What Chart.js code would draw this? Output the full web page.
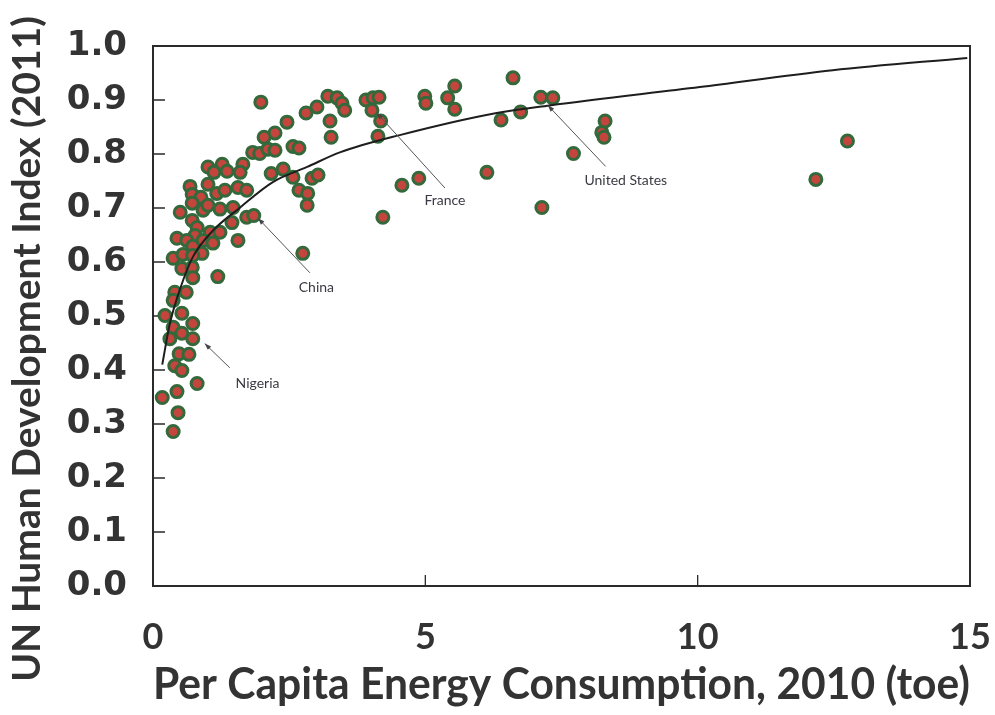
<!DOCTYPE html>
<html>
<head>
<meta charset="utf-8">
<script src="https://cdn.jsdelivr.net/npm/chart.js@4.4.1/dist/chart.umd.min.js"></script>
<style>
  html, body { margin: 0; padding: 0; background: #fff; }
  #wrap { width: 995px; height: 715px; }
</style>
</head>
<body>
<div id="wrap"><canvas id="hdiChart" width="995" height="715"></canvas></div>
<script>
// per capita energy use 2010 (toe) and HDI 2011
const energyX = [
  1.98, 2.46, 2.81, 3.01, 3.21, 3.38, 3.47, 3.52, 3.25, 3.27,
  3.91, 4.04, 4.15, 4.02, 4.18, 4.13, 2.24, 2.04, 2.57, 2.68,
  1.83, 1.96, 2.11, 2.24, 1.65, 1.27, 1.01, 1.12, 1.36, 1.60,
  2.17, 2.39, 2.57, 2.92, 3.03, 2.68, 2.84, 2.83, 0.68, 1.01,
  0.72, 0.88, 1.17, 1.32, 1.56, 1.72, 0.72, 0.92, 1.01, 1.23,
  1.47, 0.50, 1.45, 1.72, 1.85, 0.72, 0.81, 0.77, 1.05, 1.23,
  0.44, 0.62, 0.92, 1.10, 1.56, 0.73, 0.90, 0.37, 0.55, 0.73,
  0.53, 0.72, 0.73, 1.19, 0.40, 0.61, 0.37, 0.22, 0.53, 0.37,
  0.53, 0.73, 0.31, 0.73, 0.48, 0.66, 0.40, 0.53, 0.81, 0.44,
  0.17, 0.46, 0.37, 2.75, 4.22, 4.57, 4.88, 6.13, 6.39, 6.61,
  6.75, 7.12, 7.34, 7.14, 7.72, 8.24, 8.28, 8.30, 12.17, 12.75,
  4.99, 5.01, 5.41, 5.54, 5.54
];
const hdiY = [
  0.896, 0.859, 0.876, 0.887, 0.907, 0.904, 0.894, 0.881, 0.861, 0.831,
  0.900, 0.904, 0.905, 0.881, 0.861, 0.833, 0.839, 0.831, 0.814, 0.811,
  0.803, 0.801, 0.809, 0.807, 0.781, 0.781, 0.776, 0.766, 0.768, 0.766,
  0.764, 0.772, 0.757, 0.755, 0.761, 0.733, 0.727, 0.705, 0.740, 0.744,
  0.725, 0.720, 0.727, 0.733, 0.738, 0.733, 0.709, 0.696, 0.705, 0.698,
  0.701, 0.692, 0.673, 0.683, 0.686, 0.677, 0.664, 0.649, 0.655, 0.655,
  0.644, 0.640, 0.640, 0.635, 0.640, 0.629, 0.616, 0.607, 0.614, 0.612,
  0.588, 0.590, 0.571, 0.573, 0.544, 0.544, 0.529, 0.501, 0.505, 0.479,
  0.468, 0.486, 0.458, 0.458, 0.430, 0.429, 0.408, 0.399, 0.375, 0.360,
  0.349, 0.321, 0.286, 0.616, 0.683, 0.742, 0.755, 0.766, 0.863, 0.941,
  0.878, 0.905, 0.904, 0.701, 0.801, 0.840, 0.831, 0.861, 0.753, 0.824,
  0.907, 0.894, 0.904, 0.926, 0.883
];

// trend curve
const fitX = [0.17, 0.31, 0.50, 0.73, 1.08, 1.60, 2.20, 2.83, 3.43, 4.53, 6.31, 7.28, 10.04, 12.48, 14.95];
const fitY = [0.410, 0.486, 0.551, 0.609, 0.656, 0.701, 0.748, 0.776, 0.803, 0.835, 0.876, 0.890, 0.924, 0.955, 0.978];

// callouts (tip = arrow end on the point, tail = arrow start, text = label centre)
const noteLabels = ['Nigeria', 'China', 'France', 'United States'];
const noteTipX = [0.95, 1.93, 4.11, 7.25];
const noteTipY = [0.449, 0.681, 0.876, 0.890];
const noteTailX = [1.41, 2.88, 5.36, 8.31];
const noteTailY = [0.404, 0.580, 0.737, 0.777];
const noteTextX = [1.92, 3.00, 5.36, 8.68];
const noteTextY = [0.375, 0.552, 0.714, 0.751];

const yTicks = [0.1, 0.2, 0.3, 0.4, 0.5, 0.6, 0.7, 0.8, 0.9];
const xTicks = [5, 10];

const yTitle = 'UN Human Development Index (2011)';
const xTitle = 'Per Capita Energy Consumption, 2010 (toe)';

const boxPlugin = {
    id: 'boxPlugin',
    beforeDatasetsDraw(chart) {
        const ctx = chart.ctx;
        const a = chart.chartArea;
        const xs = chart.scales.x, ys = chart.scales.y;
        ctx.save();
        ctx.strokeStyle = '#2a2a2a';
        ctx.lineWidth = 2;
        ctx.strokeRect(a.left, a.top, a.right - a.left, a.bottom - a.top);
        ctx.lineWidth = 1.3;
        ctx.beginPath();
        yTicks.forEach(v => {
            const y = ys.getPixelForValue(v);
            ctx.moveTo(a.left, y);
            ctx.lineTo(a.left + 12, y);
        });
        xTicks.forEach(v => {
            const x = xs.getPixelForValue(v);
            ctx.moveTo(x, a.bottom);
            ctx.lineTo(x, a.bottom - 11);
        });
        ctx.stroke();
        ctx.restore();
    },
    afterDatasetsDraw(chart) {
        const ctx = chart.ctx;
        const xs = chart.scales.x, ys = chart.scales.y;
        ctx.save();
        ctx.strokeStyle = '#555';
        ctx.lineWidth = 1;
        noteLabels.forEach((lab, i) => {
            const tx = xs.getPixelForValue(noteTipX[i]), ty = ys.getPixelForValue(noteTipY[i]);
            const sx = xs.getPixelForValue(noteTailX[i]), sy = ys.getPixelForValue(noteTailY[i]);
            ctx.beginPath();
            ctx.moveTo(sx, sy);
            ctx.lineTo(tx, ty);
            ctx.stroke();
            const ang = Math.atan2(ty - sy, tx - sx);
            ctx.fillStyle = '#444';
            ctx.beginPath();
            ctx.moveTo(tx, ty);
            ctx.lineTo(tx - 7 * Math.cos(ang - 0.35), ty - 7 * Math.sin(ang - 0.35));
            ctx.lineTo(tx - 7 * Math.cos(ang + 0.35), ty - 7 * Math.sin(ang + 0.35));
            ctx.closePath();
            ctx.fill();
            ctx.font = '14px Lato';
            ctx.fillStyle = '#3a3a44';
            ctx.textAlign = 'center';
            ctx.textBaseline = 'middle';
            ctx.fillText(lab, xs.getPixelForValue(noteTextX[i]), ys.getPixelForValue(noteTextY[i]));
        });
        ctx.restore();
    },
    afterDraw(chart) {
        const ctx = chart.ctx;
        ctx.save();
        ctx.fillStyle = '#333';
        ctx.font = 'bold 39px Lato';
        ctx.textAlign = 'center';
        ctx.textBaseline = 'middle';
        ctx.translate(27, 349);
        ctx.rotate(-Math.PI / 2);
        ctx.fillText(yTitle, 0, 0);
        ctx.restore();
    }
};

const ctx = document.getElementById('hdiChart').getContext('2d');
new Chart(ctx, {
    type: 'scatter',
    data: {
        datasets: [{
            label: 'Countries',
            data: energyX.map((x, i) => ({ x: x, y: hdiY[i] })),
            backgroundColor: '#c4453d',
            borderColor: '#33693b',
            borderWidth: 3,
            pointRadius: 6,
            order: 2
        }, {
            type: 'line',
            label: 'Fit',
            data: fitX.map((x, i) => ({ x: x, y: fitY[i] })),
            borderColor: '#1e1e1e',
            borderWidth: 2,
            pointRadius: 0,
            fill: false,
            cubicInterpolationMode: 'monotone',
            order: 1
        }]
    },
    options: {
        responsive: false,
        animation: false,
        events: [],
        layout: { padding: { top: 46, right: 25, left: 0, bottom: 0 } },
        plugins: {
            legend: { display: false },
            tooltip: { enabled: false }
        },
        scales: {
            x: {
                type: 'linear',
                min: 0,
                max: 15,
                afterFit: s => { s.height = 129; s.paddingLeft = 0; s.paddingRight = 0; },
                afterBuildTicks: s => { s.ticks = [0, 5, 10, 15].map(v => ({ value: v })); },
                grid: { display: false, drawTicks: false },
                border: { display: false },
                ticks: {
                    padding: 30,
                    color: '#333',
                    font: { family: 'Lato', weight: 'bold', size: 36 }
                },
                title: {
                    display: true,
                    text: xTitle,
                    color: '#333',
                    padding: { top: 0, bottom: 4 },
                    font: { family: 'Lato', weight: 'bold', size: 44 }
                }
            },
            y: {
                type: 'linear',
                min: 0,
                max: 1,
                afterFit: s => { s.width = 153; s.paddingTop = 0; s.paddingBottom = 0; },
                ticks: {
                    stepSize: 0.1,
                    padding: 26,
                    color: '#333',
                    callback: v => v.toFixed(1),
                    font: { family: 'DejaVu Sans', weight: 'bold', size: 34 }
                },
                grid: { display: false, drawTicks: false },
                border: { display: false }
            }
        }
    },
    plugins: [boxPlugin]
});
</script>
</body>
</html>
